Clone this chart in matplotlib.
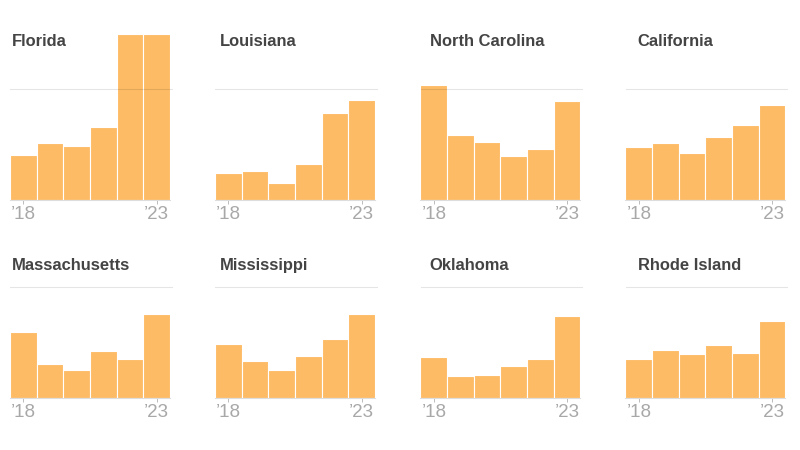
import matplotlib
matplotlib.use('Agg')
import matplotlib.pyplot as plt

plt.rcParams['font.family'] = ['Liberation Sans', 'DejaVu Sans']

states = ["Florida", "Louisiana", "North Carolina", "California",
          "Massachusetts", "Mississippi", "Oklahoma", "Rhode Island"]
years = [2018, 2019, 2020, 2021, 2022, 2023]

# gridline = 100
florida = [40.5, 51, 48.5, 65.5, 150, 149.5]
louisiana = [24.5, 26.5, 15.5, 32.5, 78.5, 90.5]
north_carolina = [104, 58.5, 52.5, 39.5, 45.5, 89.5]
california = [47.5, 51.5, 42.5, 56.5, 67.5, 86]
massachusetts = [59.5, 30.5, 25.5, 42.5, 35.5, 75.5]
mississippi = [48.5, 33.5, 25.5, 37.5, 53.5, 75.5]
oklahoma = [36.5, 19.5, 20.5, 28.5, 35.5, 73.5]
rhode_island = [35.5, 43.5, 39.5, 47.5, 40.5, 69.5]
all_values = [florida, louisiana, north_carolina, california,
              massachusetts, mississippi, oklahoma, rhode_island]

BAR = "#fdbb66"
W, H = 800, 450
lefts = [10, 215, 420.5, 625.5]
title_x = [12, 220, 429.5, 637.5]
title_base = [46.5, 270]
bases = [200, 398]
AX_W = 160
UNIT = 1.11  # px per value unit
TOP_VAL = 170

fig = plt.figure(figsize=(8, 4.5), dpi=100)
for i, (state, vals) in enumerate(zip(states, all_values)):
    col = i % 4
    row = i // 4
    base = bases[row]
    ax_h = TOP_VAL * UNIT
    ax = fig.add_axes([lefts[col] / W, 1 - base / H, AX_W / W, ax_h / H])
    ax.patch.set_alpha(0)
    ax.bar(years, vals, width=1, color=BAR, edgecolor="white", linewidth=0.8, zorder=2)
    ax.axhline(100, color="black", alpha=0.1, lw=0.8, xmin=0, xmax=1.01, zorder=3, clip_on=False)
    ax.set_xlim(2017.5, 2023.5)
    ax.set_ylim(0, TOP_VAL)
    for s in ["top", "left", "right"]:
        ax.spines[s].set_visible(False)
    ax.spines["bottom"].set_color("#dddddd")
    ax.spines["bottom"].set_linewidth(0.8)
    ax.set_yticks([])
    ax.set_xticks([2018, 2023])
    ax.set_xticklabels(["\u201918", "\u201923"], fontsize=13.5, color="#a8a8a8")
    ax.tick_params(axis="x", length=3, width=0.7, color="#bbbbbb", pad=1)
    fig.text(title_x[col] / W, 1 - title_base[row] / H, state, fontsize=11.9, fontweight="bold",
             color="#444444", va="baseline", ha="left", zorder=5)

fig.savefig("out.png", dpi=100)
